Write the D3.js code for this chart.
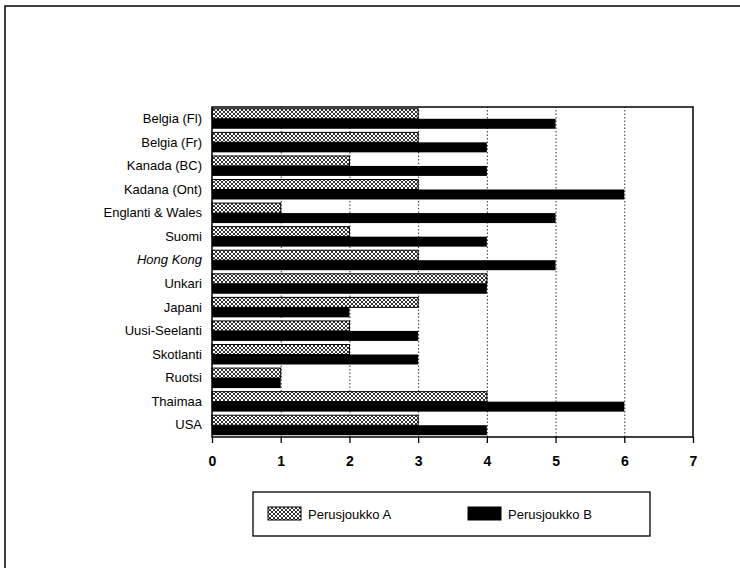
<!DOCTYPE html>
<html lang="en">
<head>
    <meta charset="UTF-8">
    <title>Perusjoukko A / B</title>
    <script src="https://d3js.org/d3.v7.min.js"></script>
    <style>
        body { margin: 0; background: #fff; }
        text { font-family: "Liberation Sans", Arial, sans-serif; fill: #000; }
        .gridlines line { stroke: #333; stroke-dasharray: 1.5 2; }
        .gridlines .domain { stroke: none; }
    </style>
</head>
<body>
<script>
    // data
    const countries = ["Belgia (Fl)", "Belgia (Fr)", "Kanada (BC)", "Kadana (Ont)", "Englanti & Wales",
        "Suomi", "Hong Kong", "Unkari", "Japani", "Uusi-Seelanti", "Skotlanti", "Ruotsi", "Thaimaa", "USA"];
    const valuesA = [3, 3, 2, 3, 1, 2, 3, 4, 3, 2, 2, 1, 4, 3];
    const valuesB = [5, 4, 4, 6, 5, 4, 5, 4, 2, 3, 3, 1, 6, 4];
    const seriesNames = ["Perusjoukko A", "Perusjoukko B"];
    const xTicks = [0, 1, 2, 3, 4, 5, 6, 7];

    const width = 740, height = 568;
    const plot = {left: 212, top: 107, right: 693, bottom: 437};

    const svg = d3.select("body").append("svg")
        .attr("width", width)
        .attr("height", height);

    // checker pattern for series A
    const defs = svg.append("defs");
    const pat = defs.append("pattern")
        .attr("id", "checks")
        .attr("patternUnits", "userSpaceOnUse")
        .attr("width", 4)
        .attr("height", 4);
    pat.append("rect").attr("width", 4).attr("height", 4).attr("fill", "#fff");
    pat.append("path").attr("d", "M0,0L4,4M4,0L0,4").attr("stroke", "#000").attr("stroke-width", 0.8);

    // outer frame (only left and top visible)
    svg.append("path")
        .attr("d", "M5,568V6H740")
        .attr("fill", "none")
        .attr("stroke", "#000")
        .attr("stroke-width", 1.5);

    const xScale = d3.scaleLinear()
        .domain([0, 7])
        .range([plot.left, plot.right]);

    const yScale = d3.scaleBand()
        .domain(countries)
        .range([plot.top, plot.bottom]);

    const inner = d3.scaleBand()
        .domain(["A", "B"])
        .range([0, yScale.bandwidth()])
        .paddingInner(0)
        .paddingOuter(0.18);

    // gridlines
    svg.append("g")
        .attr("class", "gridlines")
        .attr("transform", `translate(0,${plot.bottom})`)
        .call(d3.axisBottom(xScale).tickValues(xTicks.slice(1, -1))
            .tickSize(-(plot.bottom - plot.top)).tickFormat(""));

    const rows = countries.map((c, i) => ({name: c, a: valuesA[i], b: valuesB[i]}));

    svg.selectAll(".barA")
        .data(rows)
        .enter()
        .append("rect")
        .attr("class", "barA")
        .attr("x", xScale(0))
        .attr("y", d => yScale(d.name) + inner("A"))
        .attr("width", d => xScale(d.a) - xScale(0))
        .attr("height", inner.bandwidth())
        .attr("fill", "url(#checks)")
        .attr("stroke", "#000")
        .attr("stroke-width", 1);

    svg.selectAll(".barB")
        .data(rows)
        .enter()
        .append("rect")
        .attr("class", "barB")
        .attr("x", xScale(0))
        .attr("y", d => yScale(d.name) + inner("B"))
        .attr("width", d => xScale(d.b) - xScale(0))
        .attr("height", inner.bandwidth())
        .attr("fill", "#000");

    // plot frame
    svg.append("rect")
        .attr("x", plot.left)
        .attr("y", plot.top)
        .attr("width", plot.right - plot.left)
        .attr("height", plot.bottom - plot.top)
        .attr("fill", "none")
        .attr("stroke", "#000")
        .attr("stroke-width", 1.5);

    // x axis
    const xAxis = svg.append("g")
        .attr("transform", `translate(0,${plot.bottom})`)
        .call(d3.axisBottom(xScale).tickValues(xTicks).tickSize(6).tickPadding(13).tickFormat(d3.format("d")));
    xAxis.select(".domain").remove();
    xAxis.selectAll("line").attr("stroke", "#000").attr("stroke-width", 1.3);
    xAxis.selectAll("text")
        .style("font-family", "'Liberation Sans', Arial, sans-serif")
        .style("font-size", "14px")
        .style("font-weight", "bold");

    // category labels
    const yAxis = svg.append("g")
        .attr("transform", `translate(${plot.left},0)`)
        .call(d3.axisLeft(yScale).tickSize(0).tickPadding(10));
    yAxis.select(".domain").remove();
    yAxis.selectAll("text")
        .style("font-family", "'Liberation Sans', Arial, sans-serif")
        .style("font-size", "13px")
        .style("font-style", d => d === "Hong Kong" ? "italic" : "normal");

    // legend
    const legend = svg.append("g");
    legend.append("rect")
        .attr("x", 253).attr("y", 492)
        .attr("width", 397).attr("height", 44)
        .attr("fill", "#fff")
        .attr("stroke", "#000")
        .attr("stroke-width", 1.3);

    const legendX = [268, 468];
    seriesNames.forEach((name, i) => {
        legend.append("rect")
            .attr("x", legendX[i]).attr("y", 507)
            .attr("width", 33).attr("height", 13)
            .attr("fill", i === 0 ? "url(#checks)" : "#000")
            .attr("stroke", "#000")
            .attr("stroke-width", 1);
        legend.append("text")
            .attr("x", legendX[i] + 40).attr("y", 518.5)
            .style("font-size", "13px")
            .text(name);
    });
</script>
</body>
</html>
